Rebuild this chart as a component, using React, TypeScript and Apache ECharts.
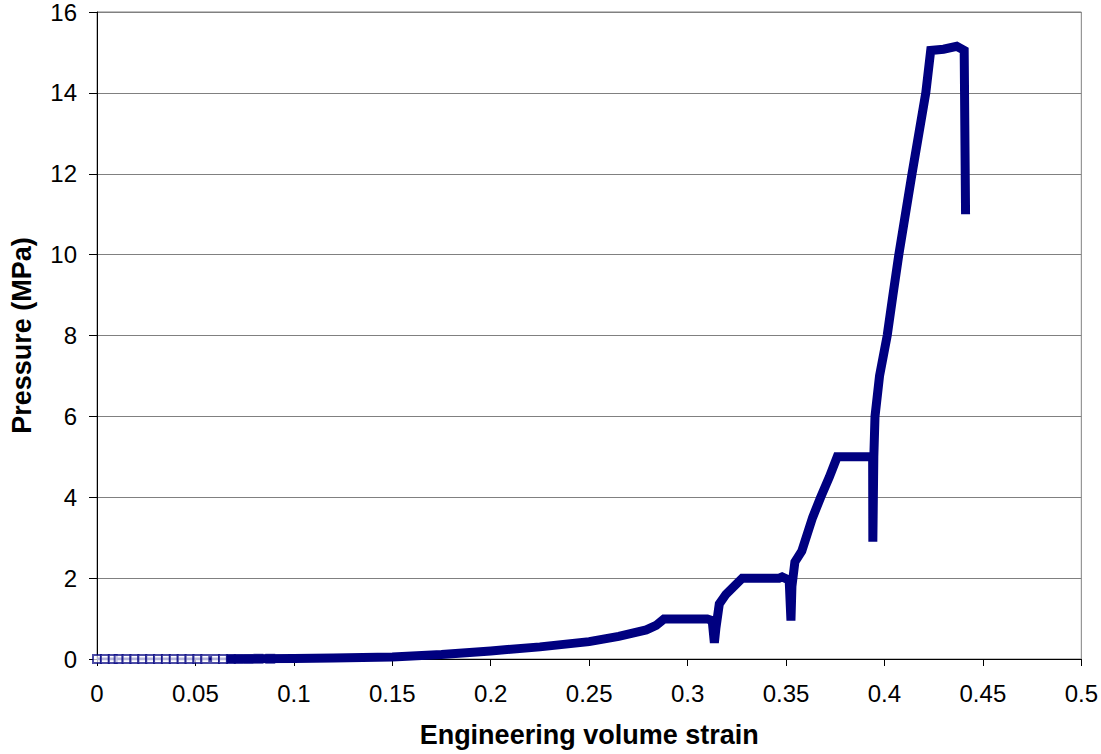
import React, { useEffect, useRef } from "react";
import * as echarts from "echarts";

// Low-strain region (many sampled points, drawn with square markers)
const lowStrain: number[] = [0, 0.004, 0.008, 0.011, 0.015, 0.019, 0.023, 0.027, 0.031, 0.035, 0.039, 0.043, 0.047, 0.051, 0.055, 0.06, 0.064, 0.068, 0.072, 0.077, 0.082, 0.088];
const lowPressure: number[] = [0, 0, 0, 0, 0, 0, 0, 0, 0, 0, 0, 0, 0, 0, 0, 0, 0, 0, 0, 0.003, 0.004, 0.005];

// Main loading/unloading curve
const strain: number[] = [
  0.066, 0.08, 0.1, 0.12, 0.15, 0.175, 0.2, 0.225, 0.25, 0.265, 0.279, 0.284, 0.288,
  0.31, 0.3125, 0.3136, 0.3144, 0.3161, 0.3195, 0.3278, 0.3465, 0.348, 0.3516, 0.3525,
  0.353, 0.3545, 0.358, 0.3635, 0.3676, 0.372, 0.376, 0.394, 0.3941, 0.3946, 0.3952,
  0.3975, 0.4014, 0.4043, 0.4073, 0.414, 0.421, 0.4235, 0.43, 0.4367, 0.4405, 0.4412,
];
const pressure: number[] = [
  0, 0.005, 0.01, 0.025, 0.05, 0.11, 0.2, 0.3, 0.43, 0.56, 0.72, 0.83, 0.99,
  0.99, 0.95, 0.4, 0.77, 1.36, 1.6, 2.0, 2.0, 2.03, 1.95, 0.95,
  1.8, 2.4, 2.67, 3.5, 4.0, 4.5, 5.0, 5.0, 2.9, 5.0, 6.0,
  7.0, 8.0, 9.0, 10.0, 12.0, 14.0, 15.05, 15.08, 15.15, 15.05, 11.0,
];

const xTicks = { min: 0, max: 0.5, interval: 0.05 };
const yTicks = { min: 0, max: 16, interval: 2 };

export default function App() {
  const ref = useRef<HTMLDivElement>(null);
  useEffect(() => {
    if (!ref.current) return;
    const chart = echarts.init(ref.current, null, { renderer: "svg" });
    const font = "Liberation Sans, Arial, sans-serif";
    chart.setOption({
      animation: false,
      backgroundColor: "#ffffff",
      grid: {
        left: 96,
        right: 18,
        top: 10,
        bottom: 95,
        show: true,
        borderColor: "#808080",
        borderWidth: 1,
        backgroundColor: "transparent",
      },
      xAxis: {
        type: "value",
        min: xTicks.min,
        max: xTicks.max,
        interval: xTicks.interval,
        name: "Engineering volume strain",
        nameLocation: "middle",
        nameGap: 62,
        nameTextStyle: { fontFamily: font, fontSize: 27, fontWeight: "bold", color: "#000" },
        axisLine: { show: true, lineStyle: { color: "#000", width: 1 } },
        axisTick: { show: true, length: 7, lineStyle: { color: "#000" } },
        axisLabel: {
          fontFamily: font,
          fontSize: 24,
          color: "#000",
          margin: 22,
          formatter: (v: number) => String(parseFloat(v.toFixed(2))),
        },
        splitLine: { show: false },
      },
      yAxis: {
        type: "value",
        min: yTicks.min,
        max: yTicks.max,
        interval: yTicks.interval,
        name: "Pressure (MPa)",
        nameLocation: "middle",
        nameGap: 62,
        nameRotate: 90,
        nameTextStyle: { fontFamily: font, fontSize: 27, fontWeight: "bold", color: "#000" },
        axisLine: { show: true, lineStyle: { color: "#000", width: 1 } },
        axisTick: { show: true, length: 8, lineStyle: { color: "#000" } },
        axisLabel: { fontFamily: font, fontSize: 24, color: "#000", margin: 20 },
        splitLine: { show: true, lineStyle: { color: "#808080", width: 1 } },
      },
      series: [
        {
          type: "line",
          data: lowStrain.map((x, i) => [x, lowPressure[i]]),
          symbol: "emptyRect",
          symbolSize: 8,
          showSymbol: true,
          lineStyle: { color: "#000080", width: 3 },
          itemStyle: { color: "#000080", borderColor: "#000080", borderWidth: 1, opacity: 0.7 },
          z: 2,
        },
        {
          type: "line",
          data: strain.map((x, i) => [x, pressure[i]]),
          symbol: "none",
          lineStyle: { color: "#000080", width: 9, join: "miter", cap: "butt" },
          z: 3,
        },
      ],
    });
    return () => chart.dispose();
  }, []);
  return (
    <div
      ref={ref}
      style={{ position: "fixed", left: 0, top: 0, width: 1101, height: 754 }}
    />
  );
}
